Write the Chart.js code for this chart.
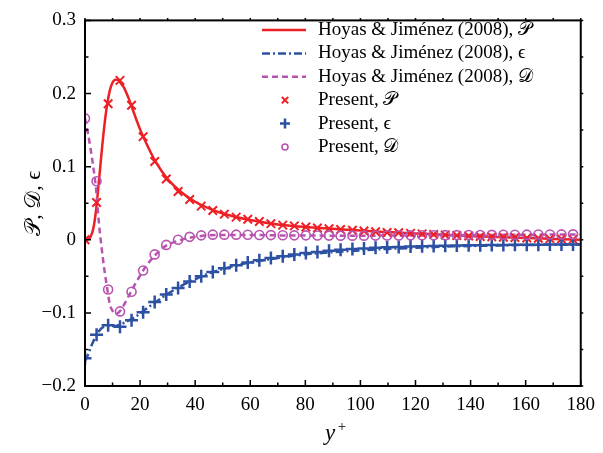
<!DOCTYPE html>
<html>
<head>
<meta charset="utf-8">
<script src="https://cdn.jsdelivr.net/npm/chart.js@4.4.1/dist/chart.umd.min.js"></script>
<style>
  html, body { margin: 0; padding: 0; background: #fff; }
</style>
</head>
<body>
<canvas id="chart" width="603" height="453"></canvas>
<script>
// --- données ---
// profils de référence (Hoyas & Jiménez 2008)
const refYPlus = [0, 1, 2, 3, 4, 5, 6, 7, 8, 9, 10, 11, 12, 13, 14, 16, 18, 20, 22, 25, 28, 30,
  35, 40, 45, 50, 60, 70, 80, 90, 100, 110, 120, 130, 140, 150, 160, 170, 180];
const refP = [0, 0.0005, 0.004, 0.015, 0.040, 0.078, 0.118, 0.155, 0.184, 0.204, 0.215, 0.219, 0.219,
  0.214, 0.209, 0.192, 0.171, 0.151, 0.134, 0.111, 0.093, 0.083, 0.065, 0.052, 0.043, 0.036, 0.027,
  0.021, 0.0175, 0.015, 0.0125, 0.0105, 0.0087, 0.0069, 0.0052, 0.0037, 0.0024, 0.0012, 0];
const refEps = [-0.166, -0.158, -0.148, -0.139, -0.131, -0.125, -0.121, -0.119, -0.118, -0.118, -0.118,
  -0.118, -0.117, -0.116, -0.114, -0.110, -0.106, -0.101, -0.095, -0.087, -0.079, -0.074, -0.063,
  -0.054, -0.046, -0.040, -0.031, -0.025, -0.020, -0.017, -0.0145, -0.0125, -0.011, -0.0095,
  -0.0085, -0.0078, -0.0072, -0.0068, -0.0066];
const refD = [0.166, 0.147, 0.125, 0.100, 0.070, 0.025, -0.010, -0.040, -0.065, -0.088, -0.097, -0.101,
  -0.100, -0.096, -0.090, -0.076, -0.062, -0.049, -0.037, -0.023, -0.012, -0.007, 0.000, 0.004,
  0.006, 0.0065, 0.0065, 0.006, 0.0058, 0.0056, 0.0056, 0.0057, 0.0059, 0.0061, 0.0063, 0.0066,
  0.0069, 0.0071, 0.0073];

// résultats présents (marqueurs)
const presYPlus = [0, 4.2, 8.4, 12.7, 16.9, 21.1, 25.3, 29.5, 33.8, 38.0, 42.2, 46.4, 50.6, 54.9,
  59.1, 63.3, 67.5, 71.8, 76.0, 80.2, 84.4, 88.6, 92.8, 97.1, 101.3, 105.5, 109.7, 113.9, 118.2,
  122.4, 126.6, 130.8, 135.0, 139.3, 143.5, 147.7, 151.9, 156.1, 160.4, 164.6, 168.8, 173.0, 177.2];
const presP = [0, 0.051, 0.186, 0.218, 0.184, 0.141, 0.107, 0.083, 0.066, 0.055, 0.046, 0.040, 0.035,
  0.031, 0.028, 0.025, 0.022, 0.020, 0.019, 0.0175, 0.016, 0.015, 0.014, 0.013, 0.012, 0.011, 0.010,
  0.0095, 0.0088, 0.008, 0.0073, 0.0066, 0.0058, 0.0051, 0.0045, 0.0040, 0.0035, 0.0030, 0.0025,
  0.0020, 0.0015, 0.0010, 0.0005];
const presEps = [-0.162, -0.130, -0.117, -0.119, -0.110, -0.099, -0.085, -0.075, -0.066, -0.057,
  -0.050, -0.044, -0.039, -0.035, -0.031, -0.028, -0.025, -0.0225, -0.020, -0.018, -0.0167, -0.015,
  -0.0138, -0.0127, -0.0118, -0.011, -0.0104, -0.0098, -0.0093, -0.0089, -0.0085, -0.0082, -0.0079,
  -0.0076, -0.0074, -0.0072, -0.0070, -0.0069, -0.0068, -0.0067, -0.0066, -0.0066, -0.0065];
const presD = [0.166, 0.080, -0.068, -0.098, -0.071, -0.042, -0.020, -0.007, 0.000, 0.004, 0.006,
  0.007, 0.007, 0.007, 0.0068, 0.0066, 0.0064, 0.0062, 0.006, 0.006, 0.0058, 0.0057, 0.0056, 0.0056,
  0.0056, 0.0057, 0.0058, 0.0059, 0.006, 0.0061, 0.0062, 0.0063, 0.0064, 0.0065, 0.0066, 0.0067,
  0.0068, 0.0069, 0.007, 0.0071, 0.0072, 0.0073, 0.0074];

const xTicksMajor = [0, 20, 40, 60, 80, 100, 120, 140, 160, 180];
const yTicksMajor = [-0.2, -0.1, 0, 0.1, 0.2, 0.3];

const labels = [
  'Hoyas & Jiménez (2008), \u{1D4AB}',
  'Hoyas & Jiménez (2008), \u03F5',
  'Hoyas & Jiménez (2008), \u{1D49F}',
  'Present, \u{1D4AB}',
  'Present, \u03F5',
  'Present, \u{1D49F}'
];

const RED = 'rgb(237, 32, 38)';
const BLUE = 'rgb(44, 80, 162)';
const PINK = 'rgb(184, 84, 176)';
const SERIF = "'Liberation Serif', 'Times New Roman', 'DejaVu Serif', serif";

const pts = (xs, ys) => xs.map((x, i) => ({ x: x, y: ys[i] }));

// cadre + graduations (intérieures en bas/à gauche, courtes à l'extérieur en haut/à droite)
const cadre = {
  id: 'cadre',
  afterDraw(chart) {
    const { ctx, chartArea: a, scales } = chart;
    ctx.save();
    ctx.strokeStyle = '#000';
    ctx.lineWidth = 2;
    ctx.strokeRect(a.left, a.top, a.right - a.left, a.bottom - a.top);
    ctx.lineWidth = 1.5;
    ctx.beginPath();
    scales.x.ticks.forEach(t => {
      const px = scales.x.getPixelForValue(t.value);
      const major = xTicksMajor.includes(Math.round(t.value));
      const len = major ? 6 : 3.5;
      ctx.moveTo(px, a.bottom); ctx.lineTo(px, a.bottom - len);
      ctx.moveTo(px, a.top); ctx.lineTo(px, a.top - 2.5);
    });
    scales.y.ticks.forEach(t => {
      const py = scales.y.getPixelForValue(t.value);
      const major = t.label !== '';
      const len = major ? 6 : 3.5;
      ctx.moveTo(a.left, py); ctx.lineTo(a.left + len, py);
      ctx.moveTo(a.right, py); ctx.lineTo(a.right + 2.5, py);
    });
    ctx.stroke();

    // titres des axes
    ctx.fillStyle = '#000';
    ctx.textAlign = 'center';
    ctx.textBaseline = 'alphabetic';
    ctx.font = 'italic 23px ' + SERIF;
    ctx.fillText('y', 330, 440);
    ctx.font = '15px ' + SERIF;
    ctx.fillText('+', 342, 431);

    ctx.translate(34, (a.top + a.bottom) / 2);
    ctx.rotate(-Math.PI / 2);
    ctx.textBaseline = 'middle';
    ctx.font = '22px ' + SERIF;
    ctx.fillText('\u{1D4AB}, \u{1D49F}, \u03F5', 0, 0);
    ctx.restore();
  }
};

// légende dessinée dans la zone du graphique
const legende = {
  id: 'legende',
  afterDatasetsDraw(chart) {
    const ctx = chart.ctx;
    ctx.save();
    chart.data.datasets.forEach((ds, i) => {
      const y = 30 + i * 23.4;
      if (ds.showLine !== false) {
        ctx.strokeStyle = ds.borderColor;
        ctx.lineWidth = ds.borderWidth;
        ctx.setLineDash(ds.borderDash || []);
        ctx.beginPath();
        ctx.moveTo(262, y); ctx.lineTo(306, y);
        ctx.stroke();
        ctx.setLineDash([]);
      } else {
        ctx.strokeStyle = ds.borderColor;
        ctx.fillStyle = ds.backgroundColor;
        ctx.lineWidth = ds.pointBorderWidth;
        Chart.helpers.drawPoint(ctx, {
          pointStyle: ds.pointStyle, radius: ds.pointRadius - 1.5, rotation: 0,
          borderWidth: ds.pointBorderWidth
        }, 285, y);
      }
      ctx.fillStyle = '#000';
      ctx.font = '19px ' + SERIF;
      ctx.textBaseline = 'middle';
      ctx.textAlign = 'left';
      ctx.fillText(ds.label, 318, y);
    });
    ctx.restore();
  }
};

// les marqueurs à y+ = 0 sont coupés par l'axe gauche, comme sur la figure
const clipMarqueurs = { left: 0, top: 10, right: 10, bottom: 10 };

new Chart(document.getElementById('chart'), {
  type: 'scatter',
  data: {
    datasets: [
      {
        label: labels[0], data: pts(refYPlus, refP), showLine: true, pointRadius: 0,
        borderColor: RED, borderWidth: 2.5, cubicInterpolationMode: 'monotone', order: 6
      },
      {
        label: labels[1], data: pts(refYPlus, refEps), showLine: true, pointRadius: 0,
        borderColor: BLUE, borderWidth: 2.5, borderDash: [8, 3, 2, 3], cubicInterpolationMode: 'monotone', order: 5
      },
      {
        label: labels[2], data: pts(refYPlus, refD), showLine: true, pointRadius: 0,
        borderColor: PINK, borderWidth: 2.5, borderDash: [6, 4], cubicInterpolationMode: 'monotone', order: 4
      },
      {
        label: labels[3], data: pts(presYPlus, presP), showLine: false, pointStyle: 'crossRot',
        pointRadius: 6, pointBorderWidth: 2, borderColor: RED, backgroundColor: RED, clip: clipMarqueurs, order: 3
      },
      {
        label: labels[4], data: pts(presYPlus, presEps), showLine: false, pointStyle: 'cross',
        pointRadius: 6.5, pointBorderWidth: 2.5, borderColor: BLUE, backgroundColor: BLUE, clip: clipMarqueurs, order: 2
      },
      {
        label: labels[5], data: pts(presYPlus, presD), showLine: false, pointStyle: 'circle',
        pointRadius: 4.5, pointBorderWidth: 1.6, borderColor: PINK, backgroundColor: 'rgba(0,0,0,0)', clip: clipMarqueurs, order: 1
      }
    ]
  },
  options: {
    responsive: false,
    animation: false,
    layout: { padding: { left: 0, top: 15, right: 16, bottom: 0 } },
    plugins: { legend: { display: false }, tooltip: { enabled: false } },
    scales: {
      x: {
        type: 'linear', min: 0, max: 180,
        grid: { display: false, drawTicks: false },
        border: { display: false },
        ticks: {
          stepSize: 10, autoSkip: false, maxRotation: 0, padding: 8, color: '#000',
          font: { family: SERIF, size: 19 },
          callback: v => xTicksMajor.includes(Math.round(v)) ? String(Math.round(v)) : ''
        },
        afterFit: s => { s.height = 67; }
      },
      y: {
        type: 'linear', min: -0.2, max: 0.3,
        grid: { display: false, drawTicks: false },
        border: { display: false },
        ticks: {
          stepSize: 0.05, autoSkip: false, padding: 9, color: '#000',
          font: { family: SERIF, size: 19 },
          callback: v => {
            const r = Math.round(v * 10);
            if (Math.abs(v * 10 - r) > 1e-6 || !yTicksMajor.includes(r / 10)) return '';
            return r === 0 ? '0' : (r < 0 ? '\u2212' : '') + (Math.abs(r) / 10).toFixed(1);
          }
        },
        afterFit: s => { s.width = 85; }
      }
    }
  },
  plugins: [cadre, legende]
});
</script>
</body>
</html>
